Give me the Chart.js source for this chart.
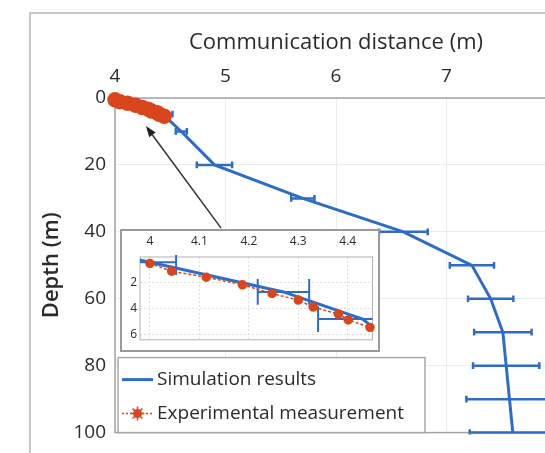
<!DOCTYPE html>
<html>
<head>
<meta charset="utf-8">
<script src="https://cdn.jsdelivr.net/npm/chart.js@4.4.0/dist/chart.umd.min.js"></script>
<style>
  html, body { margin: 0; padding: 0; background: #fff; overflow: hidden; }
  body { width: 545px; height: 453px; position: relative; }
  #frame { position: absolute; left: 29px; top: 12px; width: 700px; height: 700px; border: 2px solid #c8c8c8; }
  #main { position: absolute; left: 0; top: 0; }
  #insetBox { position: absolute; left: 120px; top: 229px; width: 256px; height: 119px;
              border: 2px solid #9a9a9a; background: #fff; }
  #inset { display: block; }
</style>
</head>
<body>
<div id="frame"></div>
<canvas id="main" width="640" height="453"></canvas>
<div id="insetBox"><canvas id="inset" width="256" height="119"></canvas></div>
<script>
// Simulation results (blue) with horizontal error bars
const simDepth = [0, 0.4, 2.7, 4.8, 10, 20, 30, 40, 50, 60, 70, 80, 90, 100];
const simDist  = [3.95, 4.0, 4.27, 4.43, 4.60, 4.90, 5.70, 6.61, 7.23, 7.40, 7.51, 7.54, 7.57, 7.60];
const simErr   = [0, 0.053, 0.052, 0.09, 0.05, 0.16, 0.105, 0.22, 0.20, 0.205, 0.26, 0.30, 0.39, 0.39];

// Experimental measurement (red)
const expDepth = [0.5, 1.1, 1.56, 2.15, 2.82, 3.33, 3.87, 4.41, 4.86, 5.44];
const expDist  = [4.00, 4.044, 4.114, 4.187, 4.247, 4.30, 4.33, 4.381, 4.401, 4.445];

const mainXTicks  = [4, 5, 6, 7, 8];
const mainYTicks  = [0, 20, 40, 60, 80, 100];
const insetXTicks = [4, 4.1, 4.2, 4.3, 4.4];
const insetYTicks = [2, 4, 6];

// arrow pointing from the inset to the zoomed region (data coords of main plot)
const arrowFrom = { x: 4.96, y: 38.9 };
const arrowTo   = { x: 4.28, y: 8.4 };

const BLUE = '#2f6cc4';
const RED = '#d9461d';
const FONT = "'Open Sans', sans-serif";
const TEXT = '#2b2b2b';

function points(dist, depth) {
    return depth.map((d, i) => ({ x: dist[i], y: d }));
}

// horizontal error bars, cap height given in depth units (like MATLAB)
const errorBars = {
    id: 'errorBars',
    beforeDatasetsDraw(chart) {
        const { ctx, chartArea: a, scales: { x, y } } = chart;
        ctx.save();
        ctx.beginPath();
        ctx.rect(a.left, a.top - 2, a.right - a.left, a.bottom - a.top + 4);
        ctx.clip();
        chart.data.datasets.forEach(ds => {
            if (!ds.xErr) return;
            ctx.strokeStyle = ds.borderColor;
            ctx.lineWidth = ds.errWidth;
            ds.data.forEach((p, i) => {
                const e = ds.xErr[i];
                if (!e) return;
                const yc = y.getPixelForValue(p.y);
                const x0 = x.getPixelForValue(p.x - e);
                const x1 = x.getPixelForValue(p.x + e);
                const c = Math.abs(y.getPixelForValue(p.y + ds.errCap) - yc);
                ctx.beginPath();
                ctx.moveTo(x0, yc); ctx.lineTo(x1, yc);
                ctx.moveTo(x0, yc - c); ctx.lineTo(x0, yc + c);
                ctx.moveTo(x1, yc - c); ctx.lineTo(x1, yc + c);
                ctx.stroke();
            });
        });
        ctx.restore();
    }
};

const plotBox = {
    id: 'plotBox',
    beforeDatasetsDraw(chart, args, opts) {
        const { ctx, chartArea: a } = chart;
        ctx.save();
        ctx.strokeStyle = opts.color;
        ctx.lineWidth = opts.width;
        ctx.strokeRect(a.left, a.top, a.right - a.left, a.bottom - a.top);
        ctx.restore();
    }
};

const arrow = {
    id: 'arrow',
    afterDatasetsDraw(chart) {
        const { ctx, scales: { x, y } } = chart;
        const x0 = x.getPixelForValue(arrowFrom.x), y0 = y.getPixelForValue(arrowFrom.y);
        const x1 = x.getPixelForValue(arrowTo.x), y1 = y.getPixelForValue(arrowTo.y);
        const ang = Math.atan2(y1 - y0, x1 - x0);
        const len = 11, half = 4;
        ctx.save();
        ctx.strokeStyle = '#333';
        ctx.fillStyle = '#222';
        ctx.lineWidth = 1.5;
        ctx.beginPath();
        ctx.moveTo(x0, y0);
        ctx.lineTo(x1 - Math.cos(ang) * len, y1 - Math.sin(ang) * len);
        ctx.stroke();
        ctx.beginPath();
        ctx.moveTo(x1, y1);
        ctx.lineTo(x1 - Math.cos(ang) * len - Math.sin(ang) * half, y1 - Math.sin(ang) * len + Math.cos(ang) * half);
        ctx.lineTo(x1 - Math.cos(ang) * len + Math.sin(ang) * half, y1 - Math.sin(ang) * len - Math.cos(ang) * half);
        ctx.closePath();
        ctx.fill();
        ctx.restore();
    }
};

// boxed legend in the lower left corner of the plot
const boxLegend = {
    id: 'boxLegend',
    afterDatasetsDraw(chart) {
        const { ctx, chartArea: a } = chart;
        const left = a.left + 3, top = a.bottom - 75, w = 307, h = 75;
        ctx.save();
        ctx.fillStyle = '#fff';
        ctx.fillRect(left, top, w, h);
        ctx.strokeStyle = '#a8a8a8';
        ctx.lineWidth = 1.5;
        ctx.strokeRect(left, top, w, h);
        ctx.font = '19px ' + FONT;
        ctx.textBaseline = 'middle';
        chart.data.datasets.forEach((ds, i) => {
            const yy = top + 22 + i * 34;
            const sx0 = left + 4, sx1 = left + 35, mx = (sx0 + sx1) / 2;
            ctx.strokeStyle = ds.borderColor;
            ctx.lineWidth = ds.borderWidth;
            ctx.setLineDash(ds.borderDash || []);
            ctx.beginPath();
            ctx.moveTo(sx0, yy); ctx.lineTo(sx1, yy);
            ctx.stroke();
            ctx.setLineDash([]);
            if (ds.pointRadius) {
                ctx.fillStyle = ds.borderColor;
                ctx.beginPath();
                ctx.arc(mx, yy, 4.5, 0, Math.PI * 2);
                ctx.fill();
                ctx.lineWidth = 1.5;
                ctx.beginPath();
                for (let k = 0; k < 4; k++) {
                    const t = k * Math.PI / 4;
                    ctx.moveTo(mx - Math.cos(t) * 7, yy - Math.sin(t) * 7);
                    ctx.lineTo(mx + Math.cos(t) * 7, yy + Math.sin(t) * 7);
                }
                ctx.stroke();
            }
            ctx.fillStyle = TEXT;
            ctx.fillText(ds.label, left + 39, yy);
        });
        ctx.restore();
    }
};

function fixedTicks(list) {
    return scale => { scale.ticks = list.map(v => ({ value: v })); };
}

new Chart(document.getElementById('main'), {
    type: 'scatter',
    data: {
        datasets: [
            {
                label: 'Simulation results',
                data: points(simDist, simDepth),
                xErr: simErr, errCap: 1, errWidth: 2.5,
                showLine: true,
                borderColor: BLUE,
                backgroundColor: BLUE,
                borderWidth: 3,
                pointRadius: 0,
                order: 1
            },
            {
                label: 'Experimental measurement',
                data: points(expDist, expDepth),
                showLine: true,
                borderColor: RED,
                backgroundColor: RED,
                borderWidth: 1.5,
                borderDash: [2, 2],
                pointRadius: 7,
                pointBackgroundColor: RED,
                pointBorderColor: RED,
                clip: 10,
                order: 0
            }
        ]
    },
    options: {
        responsive: false,
        animation: false,
        devicePixelRatio: 1,
        layout: { padding: { left: 0, top: 0, right: 83, bottom: 18 } },
        plugins: {
            legend: { display: false },
            tooltip: { enabled: false },
            plotBox: { color: '#a4a4a4', width: 1.5 }
        },
        scales: {
            x: {
                type: 'linear',
                position: 'top',
                min: 4,
                max: 8,
                afterBuildTicks: fixedTicks(mainXTicks),
                afterFit: s => { s.height = 98; },
                grid: { color: '#ebebeb', drawTicks: false },
                border: { display: false },
                ticks: { padding: 10, color: TEXT, font: { family: FONT, size: 19 } },
                title: {
                    display: true,
                    text: 'Communication distance (m)',
                    color: TEXT,
                    font: { family: FONT, size: 22 },
                    padding: { top: 30, bottom: 0 }
                }
            },
            y: {
                type: 'linear',
                reverse: true,
                min: 0,
                max: 100,
                afterBuildTicks: fixedTicks(mainYTicks),
                afterFit: s => { s.width = 115; },
                grid: { color: '#ebebeb', drawTicks: false },
                border: { display: false },
                ticks: { padding: 9, color: TEXT, font: { family: FONT, size: 19 } },
                title: {
                    display: true,
                    text: 'Depth (m)',
                    color: TEXT,
                    font: { family: FONT, size: 22, weight: '600' },
                    padding: { top: 39, bottom: 0 }
                }
            }
        }
    },
    plugins: [plotBox, errorBars, arrow, boxLegend]
});

// zoomed inset of the first few metres
new Chart(document.getElementById('inset'), {
    type: 'scatter',
    data: {
        datasets: [
            {
                label: 'Simulation results',
                data: points(simDist, simDepth),
                xErr: simErr, errCap: 1, errWidth: 2,
                showLine: true,
                borderColor: BLUE,
                borderWidth: 3,
                pointRadius: 0,
                order: 1
            },
            {
                label: 'Experimental measurement',
                data: points(expDist, expDepth),
                showLine: true,
                borderColor: RED,
                borderWidth: 1.5,
                borderDash: [3, 2],
                pointRadius: 4,
                pointBackgroundColor: RED,
                pointBorderColor: RED,
                clip: 6,
                order: 0
            }
        ]
    },
    options: {
        responsive: false,
        animation: false,
        devicePixelRatio: 1,
        layout: { padding: { left: 0, top: 0, right: 1, bottom: 2 } },
        plugins: {
            legend: { display: false },
            tooltip: { enabled: false },
            plotBox: { color: '#b0b0b0', width: 1 }
        },
        scales: {
            x: {
                type: 'linear',
                position: 'top',
                min: 3.98,
                max: 4.45,
                afterBuildTicks: fixedTicks(insetXTicks),
                afterFit: s => { s.height = 26; },
                grid: { color: '#dedede', drawTicks: false },
                border: { display: false, dash: [2, 2] },
                ticks: {
                    padding: 8, color: TEXT, font: { family: FONT, size: 12 },
                    callback: v => String(+v.toFixed(1))
                }
            },
            y: {
                type: 'linear',
                reverse: true,
                min: 0,
                max: 6.4,
                afterBuildTicks: fixedTicks(insetYTicks),
                afterFit: s => { s.width = 18; },
                grid: { color: '#dedede', drawTicks: false },
                border: { display: false, dash: [2, 2] },
                ticks: { padding: 3, color: TEXT, font: { family: FONT, size: 12 } }
            }
        }
    },
    plugins: [plotBox, errorBars]
});
</script>
</body>
</html>
